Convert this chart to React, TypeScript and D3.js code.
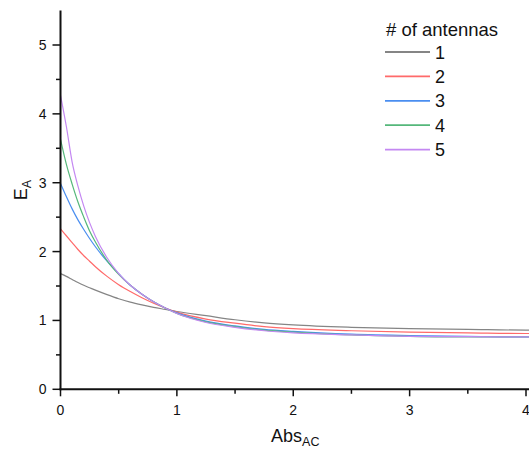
import React from "react";
import * as d3 from "d3";

const absAC = [0, 0.05, 0.1, 0.15, 0.2, 0.25, 0.3, 0.4, 0.5, 0.6, 0.7, 0.8, 0.9, 1.0, 1.25, 1.5, 1.75, 2, 2.5, 3, 3.5, 4, 4.2];
const ea1 = [1.68, 1.64, 1.595, 1.55, 1.51, 1.475, 1.44, 1.375, 1.315, 1.265, 1.225, 1.19, 1.16, 1.13, 1.07, 1.01, 0.965, 0.935, 0.90, 0.88, 0.87, 0.86, 0.86];
const ea2 = [2.33, 2.23, 2.13, 2.03, 1.94, 1.86, 1.78, 1.64, 1.52, 1.42, 1.33, 1.25, 1.18, 1.12, 1.02, 0.96, 0.91, 0.88, 0.85, 0.83, 0.82, 0.81, 0.81];
const ea3 = [2.99, 2.80, 2.62, 2.46, 2.32, 2.19, 2.07, 1.86, 1.68, 1.51, 1.38, 1.27, 1.18, 1.11, 0.99, 0.92, 0.87, 0.84, 0.80, 0.78, 0.77, 0.76, 0.76];
const ea4 = [3.63, 3.27, 2.98, 2.72, 2.50, 2.30, 2.14, 1.87, 1.67, 1.51, 1.38, 1.27, 1.18, 1.10, 0.98, 0.91, 0.86, 0.83, 0.79, 0.77, 0.76, 0.76, 0.76];
const ea5 = [4.27, 3.82, 3.30, 2.95, 2.66, 2.42, 2.22, 1.91, 1.68, 1.51, 1.38, 1.27, 1.18, 1.10, 0.97, 0.90, 0.85, 0.82, 0.79, 0.77, 0.765, 0.76, 0.76];

const seriesNames = ["1", "2", "3", "4", "5"];
const seriesValues = [ea1, ea2, ea3, ea4, ea5];
const seriesColors = ["#858585", "#ff6a6a", "#4a8ef0", "#55b77a", "#c488f2"];

const xTicks = [0, 1, 2, 3, 4];
const yTicks = [0, 1, 2, 3, 4, 5];
const xMinor = [0.5, 1.5, 2.5, 3.5];
const yMinor = [0.5, 1.5, 2.5, 3.5, 4.5];

export default function App() {
  const x = d3.scaleLinear().domain([0, 4]).range([60.5, 526]);
  const y = d3.scaleLinear().domain([0, 5]).range([389.3, 45]);
  const line = d3
    .line<number>()
    .x((_, i) => x(absAC[i]))
    .y((d) => y(d))
    .curve(d3.curveMonotoneX);
  const font = "'Liberation Sans', Arial, sans-serif";

  return (
    <svg
      width={529}
      height={450}
      style={{ position: "absolute", left: 0, top: 0, background: "#fff" }}
      fontFamily={font}
    >
      <rect width={529} height={450} fill="#fff" />
      {seriesValues.map((vals, k) => (
        <path
          key={k}
          d={line(vals) || ""}
          fill="none"
          stroke={seriesColors[k]}
          strokeWidth={1.2}
        />
      ))}
      {/* axes */}
      <line x1={x(0)} x2={x(0)} y1={y(5.5)} y2={y(0) + 1} stroke="#111" strokeWidth={2} />
      <line x1={x(0) - 1} x2={540} y1={y(0)} y2={y(0)} stroke="#111" strokeWidth={2} />
      {yTicks.map((t) => (
        <g key={"y" + t}>
          <line x1={x(0) - 8} x2={x(0)} y1={y(t)} y2={y(t)} stroke="#111" strokeWidth={1.5} />
          <text x={x(0) - 14} y={y(t)} dy="0.36em" textAnchor="end" fontSize={14} fill="#111">
            {t}
          </text>
        </g>
      ))}
      {yMinor.map((t) => (
        <line key={"ym" + t} x1={x(0) - 4.5} x2={x(0)} y1={y(t)} y2={y(t)} stroke="#111" strokeWidth={1.5} />
      ))}
      {xTicks.map((t) => (
        <g key={"x" + t}>
          <line x1={x(t)} x2={x(t)} y1={y(0)} y2={y(0) + 7} stroke="#111" strokeWidth={1.5} />
          <text x={x(t)} y={y(0) + 26} textAnchor="middle" fontSize={14} fill="#111">
            {t}
          </text>
        </g>
      ))}
      {xMinor.map((t) => (
        <line key={"xm" + t} x1={x(t)} x2={x(t)} y1={y(0)} y2={y(0) + 4.5} stroke="#111" strokeWidth={1.5} />
      ))}
      {/* axis titles */}
      <text x={x(2) + 2} y={442} textAnchor="middle" fontSize={18} fill="#111">
        Abs
        <tspan fontSize={12.5} dy={3.5}>AC</tspan>
      </text>
      <text
        transform={`translate(27, 190) rotate(-90)`}
        textAnchor="middle"
        fontSize={18}
        fill="#111"
      >
        E
        <tspan fontSize={12.5} dy={4}>A</tspan>
      </text>
      {/* legend */}
      <text x={386} y={36} fontSize={18.5} fill="#111">
        # of antennas
      </text>
      {seriesNames.map((n, k) => (
        <g key={"lg" + n}>
          <line
            x1={385}
            x2={430}
            y1={52 + k * 24.4}
            y2={52 + k * 24.4}
            stroke={seriesColors[k]}
            strokeWidth={1.8}
          />
          <text x={435} y={52 + k * 24.4 + 6.5} fontSize={18} fill="#111">
            {n}
          </text>
        </g>
      ))}
    </svg>
  );
}
